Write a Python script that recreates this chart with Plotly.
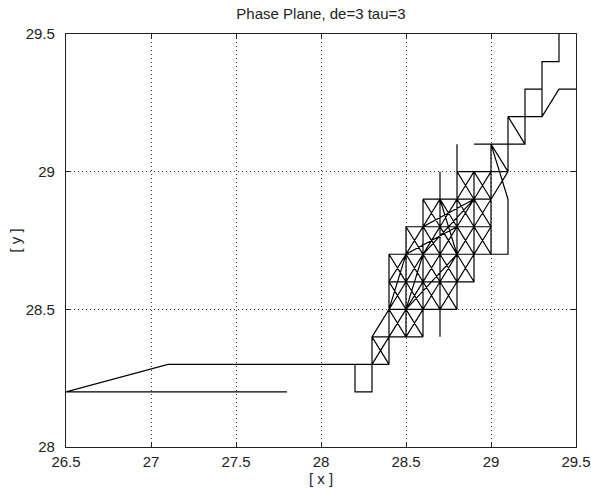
import plotly.graph_objects as go

# Trajectory in the delay-embedded phase plane: x(t) against x(t+tau)
phase_x = [
    27.8, 26.5, 27.1, 28.3, 28.2, 28.2, 28.3, 28.3, 28.4, 28.3, 28.3, 28.4, 28.4, 28.4, 28.3, 28.4,
    28.5, 28.6, 28.6, 28.5, 28.4, 28.4, 28.5, 28.5, 28.6, 28.4, 28.4,
    28.5, 28.6, 28.7, 28.8, 28.8, 28.7, 28.6, 28.5, 28.4, 28.4, 28.8, 28.7, 28.7, 28.6, 28.6, 28.5, 28.5, 28.4,
    28.4, 28.5, 28.8, 28.5, 28.6, 28.9, 28.6, 28.4, 28.5, 28.8, 28.7, 28.4,
    28.9,
    28.9, 28.8, 28.7, 28.6, 28.5, 28.4, 28.4, 28.5, 28.6, 28.7, 28.8, 28.9, 28.8, 28.8, 28.7, 28.7, 28.7, 28.7,
    28.6, 28.6, 28.5, 28.5, 28.4, 29.1,
    29.1, 29.0, 29.0, 29.0,
    28.9, 28.8, 28.7, 28.6, 28.5, 28.5, 28.6, 28.7, 28.8, 28.9, 29.0, 29.0, 28.9, 28.9, 28.8, 28.8, 28.7, 28.7,
    28.6, 28.6, 28.5, 28.5, 29.0,
    29.0, 28.9, 28.8, 28.7, 28.6, 28.6, 28.7, 28.8, 28.9, 29.0, 28.9, 28.9, 28.8, 28.8, 28.7, 28.7, 28.6, 29.0,
    29.0, 28.9, 28.8, 28.8, 28.8, 28.9, 29.0, 28.9, 28.9, 28.8, 29.1,
    29.0, 29.0, 29.1, 29.1, 29.2, 28.9, 29.2, 29.2, 29.3, 29.3, 29.1, 29.3, 29.4, 29.5, 29.4, 29.3, 29.3, 29.4, 29.4,
]
phase_y = [
    28.2, 28.2, 28.3, 28.3, 28.3, 28.2, 28.2, 28.3, 28.3, 28.4, 28.3, 28.4, 28.3, 28.4, 28.4, 28.5,
    28.4, 28.5, 28.4, 28.5, 28.4, 28.5, 28.5, 28.4, 28.4, 28.4, 28.5,
    28.6, 28.5, 28.6, 28.5, 28.6, 28.5, 28.6, 28.5, 28.6, 28.5, 28.5, 28.5, 28.6, 28.6, 28.5, 28.5, 28.6, 28.6,
    28.5, 28.7, 28.8, 28.5, 28.7, 28.9, 28.8, 28.6, 28.5, 28.7, 28.9, 28.6,
    28.6,
    28.7, 28.6, 28.7, 28.6, 28.7, 28.6, 28.7, 28.6, 28.7, 28.6, 28.7, 28.6, 28.6, 28.7, 28.7, 29.0, 28.4, 28.6,
    28.6, 28.7, 28.7, 28.6, 28.7, 28.7,
    28.9, 29.1, 29.0, 28.7,
    28.8, 28.7, 28.8, 28.7, 28.8, 28.7, 28.8, 28.7, 28.8, 28.7, 28.8, 28.7, 28.7, 28.8, 28.8, 28.7, 28.7, 28.8,
    28.8, 28.7, 28.7, 28.8, 28.8,
    28.9, 28.8, 28.9, 28.8, 28.9, 28.8, 28.9, 28.8, 28.9, 28.8, 28.8, 28.9, 28.9, 28.8, 28.8, 28.9, 28.9, 28.9,
    29.0, 28.9, 29.0, 29.1, 28.9, 29.0, 28.9, 28.9, 29.0, 29.0, 29.0,
    28.9, 29.1, 29.0, 29.2, 29.1, 29.1, 29.1, 29.3, 29.3, 29.2, 29.2, 29.2, 29.3, 29.3, 29.3, 29.2, 29.4, 29.4, 29.5,
]

x_ticks = [26.5, 27, 27.5, 28, 28.5, 29, 29.5]
x_tick_text = ["26.5", "27", "27.5", "28", "28.5", "29", "29.5"]
y_ticks = [28, 28.5, 29, 29.5]
y_tick_text = ["28", "28.5", "29", "29.5"]

font_family = "Liberation Sans, Arial, sans-serif"
text_color = "#222222"

fig = go.Figure()
fig.add_trace(go.Scatter(
    x=phase_x, y=phase_y, mode="lines",
    line=dict(color="black", width=1.2),
    hoverinfo="skip",
))

axis_common = dict(
    showline=True, linecolor=text_color, linewidth=1.3, mirror="ticks",
    ticks="inside", ticklen=5, tickcolor=text_color, tickwidth=1,
    showgrid=True, gridcolor="#333333", gridwidth=1, griddash="1px,3px",
    zeroline=False, tickfont=dict(family=font_family, size=15, color=text_color),
)

fig.update_xaxes(
    range=[26.5, 29.5], tickvals=x_ticks, ticktext=x_tick_text,
    ticklabelstandoff=1,
    title=dict(text="[ x ]", standoff=2, font=dict(family=font_family, size=15, color=text_color)),
    **axis_common,
)
fig.update_yaxes(
    range=[28, 29.5], tickvals=y_ticks, ticktext=y_tick_text,
    ticklabelstandoff=7,
    title=dict(text="[ y ]", standoff=0, font=dict(family=font_family, size=15, color=text_color)),
    **axis_common,
)

fig.update_layout(
    width=591, height=491,
    margin=dict(l=66, r=15, t=34, b=44, autoexpand=False),
    plot_bgcolor="white", paper_bgcolor="white",
    showlegend=False,
    title=dict(
        text="Phase Plane, de=3 tau=3",
        x=0.5, xref="paper", y=1 - 14 / 491, yref="container",
        xanchor="center", yanchor="middle",
        font=dict(family=font_family, size=15, color=text_color),
    ),
)

fig.write_html("out.html")
